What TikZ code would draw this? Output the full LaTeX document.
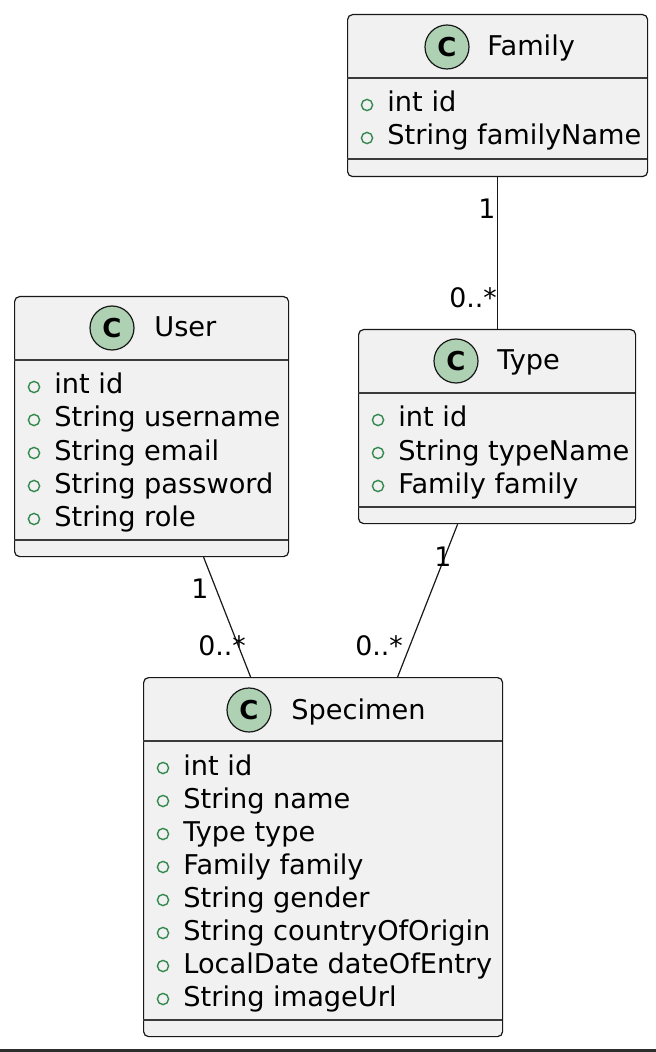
\documentclass[tikz,border=0pt]{standalone}
\usepackage{fontspec}
\setmainfont{DejaVu Sans}
\usetikzlibrary{positioning}

\definecolor{boxfill}{HTML}{F1F1F1}
\definecolor{boxline}{HTML}{181818}
\definecolor{spotfill}{HTML}{ADD1B2}
\definecolor{fieldgreen}{HTML}{34894F}

\begin{document}
\begin{tikzpicture}[
    x=0.5pt, y=-0.5pt,
    class box/.style={
      rectangle,
      draw=boxline,
      fill=boxfill,
      line width=0.6pt,
      rounded corners=2.5pt,
      inner sep=0pt,
      anchor=north west
    },
    class spot/.style={
      circle,
      draw=boxline,
      fill=spotfill,
      line width=0.6pt,
      minimum size=22pt,
      inner sep=0pt,
      font=\fontsize{13}{13}\selectfont\bfseries
    },
    class name/.style={
      anchor=base west,
      inner sep=0pt,
      font=\fontsize{13.6}{16}\selectfont
    },
    field mark/.style={
      circle,
      draw=fieldgreen,
      line width=0.7pt,
      minimum size=5.6pt,
      inner sep=0pt
    },
    field/.style={
      anchor=base west,
      inner sep=0pt,
      font=\fontsize{13.6}{16}\selectfont
    },
    separator/.style={
      draw=boxline!85,
      line width=0.6pt
    },
    assoc/.style={
      draw=boxline,
      line width=0.6pt
    },
    mult/.style={
      inner sep=0pt,
      font=\fontsize{13.4}{16}\selectfont
    }
  ]

    \useasboundingbox (0,0) rectangle (656,1052);

    % Family
    \node[class box, minimum width=150pt, minimum height=81pt] (family) at (347,14) {};
    \node[class spot] (familySpot) at (447,47) {C};
    \node[class name] (familyName) at (487,56) {Family};
    \draw[separator] (347,78) -- (647,78);
    \foreach \f [count=\i from 0] in {int id, String familyName}{
      \node[field mark] (familyM\i) at (367,105+33*\i) {};
      \node[field] (familyF\i) at (387,112+33*\i) {\f};
    }
    \draw[separator] (347,159) -- (647,159);

    % User
    \node[class box, minimum width=137pt, minimum height=130pt] (user) at (14,296) {};
    \node[class spot] (userSpot) at (112,328) {C};
    \node[class name] (userName) at (154,337) {User};
    \draw[separator] (14,360) -- (288,360);
    \foreach \f [count=\i from 0] in {int id, String username, String email, String password, String role}{
      \node[field mark] (userM\i) at (34,387+33*\i) {};
      \node[field] (userF\i) at (54,394+33*\i) {\f};
    }
    \draw[separator] (14,540) -- (288,540);

    % Type
    \node[class box, minimum width=138.5pt, minimum height=97pt] (type) at (358,329) {};
    \node[class spot] (typeSpot) at (456,361) {C};
    \node[class name] (typeName) at (497,370) {Type};
    \draw[separator] (358,393) -- (635,393);
    \foreach \f [count=\i from 0] in {int id, String typeName, Family family}{
      \node[field mark] (typeM\i) at (378,420+33*\i) {};
      \node[field] (typeF\i) at (398,427+33*\i) {\f};
    }
    \draw[separator] (358,507) -- (635,507);

    % Specimen
    \node[class box, minimum width=179.5pt, minimum height=179.5pt] (specimen) at (143,677) {};
    \node[class spot] (specimenSpot) at (249,710) {C};
    \node[class name] (specimenName) at (291,719) {Specimen};
    \draw[separator] (143,741) -- (502,741);
    \foreach \f [count=\i from 0] in {int id, String name, Type type, Family family, String gender,
        String countryOfOrigin, LocalDate dateOfEntry, String imageUrl}{
      \node[field mark] (specimenM\i) at (163,768+33*\i) {};
      \node[field] (specimenF\i) at (183,775+33*\i) {\f};
    }
    \draw[separator] (143,1020) -- (502,1020);

    % associations
    \draw[assoc] (family.south) -- (type.north -| family.south);
    \draw[assoc] ([xshift=26pt]user.south) -- ([xshift=-36.25pt]specimen.north);
    \draw[assoc] ([xshift=-19.75pt]type.south) -- ([xshift=37.25pt]specimen.north);

    \node[mult] (familyOne) at (487,209) {1};
    \node[mult] (typeMany) at (473,298) {0..*};
    \node[mult] (userOne) at (200,589) {1};
    \node[mult] (userMany) at (222,646) {0..*};
    \node[mult] (typeOne) at (443,557) {1};
    \node[mult] (specimenMany) at (379,646) {0..*};

    \fill[black!82] (0,1049) rectangle (656,1052);

  \end{tikzpicture}
\end{document}
